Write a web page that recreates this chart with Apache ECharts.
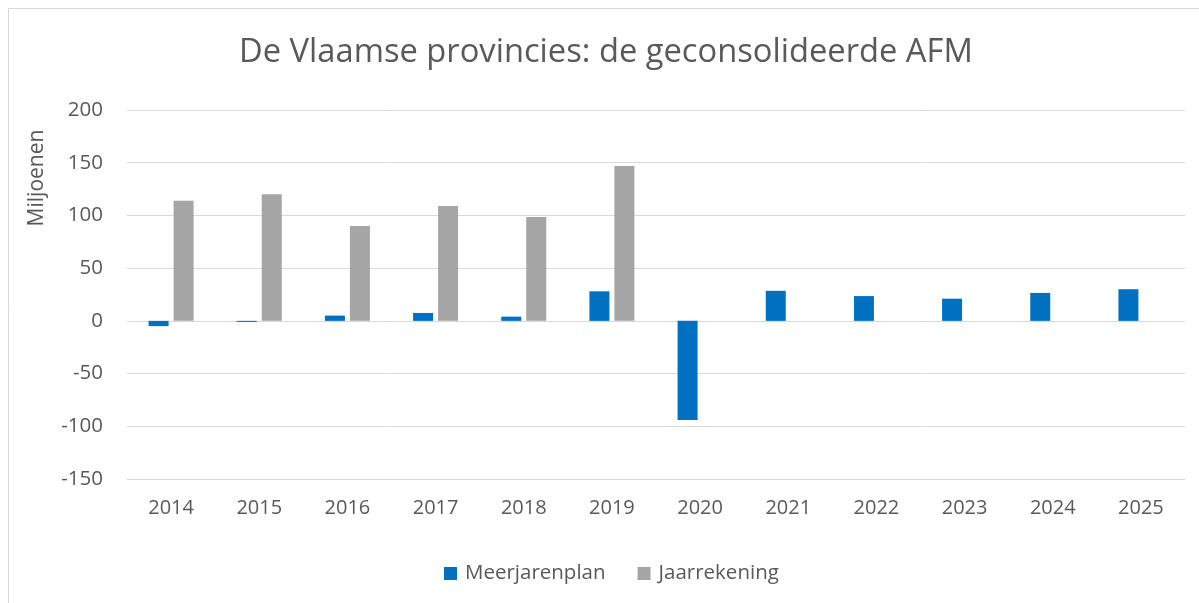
<!DOCTYPE html>
<html>
<head>
<meta charset="utf-8">
<script src="https://cdn.jsdelivr.net/npm/echarts@6/dist/echarts.min.js"></script>
<style>
  html, body { margin: 0; padding: 0; background: #fff; }
  #chart { width: 1199px; height: 603px; }
</style>
</head>
<body>
<div id="chart"></div>
<script>
  // jaren op de x-as
  var years = ['2014', '2015', '2016', '2017', '2018', '2019', '2020', '2021', '2022', '2023', '2024', '2025'];
  // Meerjarenplan (miljoenen)
  var meerjarenplan = [-5, -1, 5, 7.5, 4, 28, -94, 28.5, 23.5, 21, 26.5, 30];
  // Jaarrekening (miljoenen), enkel t/m 2019
  var jaarrekening = [114, 120, 90, 109, 98.5, 147, null, null, null, null, null, null];

  var font = 'Open Sans';
  var txt = '#595959';

  var myChart = echarts.init(document.getElementById('chart'));
  var option = {
    backgroundColor: '#fff',
    textStyle: { fontFamily: font, color: txt },
    graphic: [
      {
        type: 'rect',
        shape: { x: 8.5, y: 8.5, width: 1200, height: 600 },
        style: { fill: 'none', stroke: '#d9d9d9', lineWidth: 1 },
        silent: true
      },
      {
        // as-titel
        type: 'text',
        x: 37,
        y: 178,
        rotation: Math.PI / 2,
        style: {
          text: 'Miljoenen',
          fill: txt,
          font: '21px "Open Sans"',
          align: 'center',
          verticalAlign: 'middle'
        },
        silent: true
      }
    ],
    title: {
      text: 'De Vlaamse provincies: de geconsolideerde AFM',
      left: 234,
      top: 31,
      textStyle: { fontFamily: font, fontSize: 32.7, fontWeight: 'normal', color: txt }
    },
    legend: {
      data: ['Meerjarenplan', 'Jaarrekening'],
      bottom: 14,
      left: 439,
      itemWidth: 13,
      itemHeight: 13,
      itemGap: 32,
      icon: 'rect',
      textStyle: { fontFamily: font, fontSize: 20.5, color: txt, padding: [0, 0, 0, 3] }
    },
    grid: { left: 127, right: 14, top: 110, bottom: 124 },
    color: ['#0070c0', '#a5a5a5'],
    xAxis: {
      type: 'category',
      data: years,
      axisLine: { show: false },
      axisTick: { show: false },
      axisLabel: { fontFamily: font, fontSize: 20, color: txt, margin: 19 }
    },
    yAxis: {
      type: 'value',
      min: -150,
      max: 200,
      interval: 50,
      axisLine: { show: false },
      axisTick: { show: false },
      axisLabel: { fontFamily: font, fontSize: 20.5, color: txt, margin: 24 },
      splitLine: { lineStyle: { color: '#d9d9d9', width: 1 } }
    },
    series: [
      {
        name: 'Meerjarenplan',
        type: 'bar',
        barWidth: 20,
        barGap: '25%',
        data: meerjarenplan
      },
      {
        name: 'Jaarrekening',
        type: 'bar',
        barWidth: 20,
        data: jaarrekening
      }
    ]
  };
  myChart.setOption(option);
</script>
</body>
</html>
